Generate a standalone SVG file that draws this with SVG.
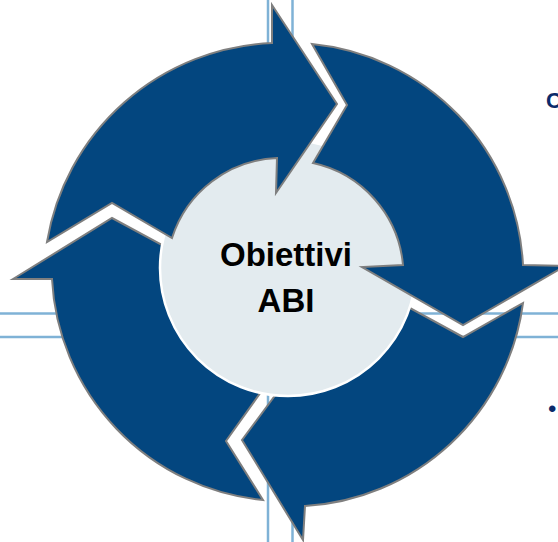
<svg xmlns="http://www.w3.org/2000/svg" width="558" height="542" viewBox="0 0 558 542">
<style>
.guide{stroke:#7fb2d6;stroke-width:2.5;fill:none}
.arrow{fill:#03467f;stroke:#7f7f7f;stroke-width:2;stroke-linejoin:miter}
.hub{fill:#e3ebef;stroke:#ffffff;stroke-width:2.5}
.lbl{font-family:"Liberation Sans",Arial,sans-serif;font-weight:bold;font-size:33px;fill:#000;text-anchor:middle}
.side{font-family:"Liberation Sans",Arial,sans-serif;fill:#0b2b6b}
</style>
<rect width="558" height="542" fill="#ffffff"/>
<g id="guides">
<line class="guide" x1="268" y1="0" x2="268" y2="542"/>
<line class="guide" x1="292.5" y1="0" x2="292.5" y2="542"/>
<line class="guide" x1="0" y1="313.5" x2="558" y2="313.5"/>
<line class="guide" x1="0" y1="337" x2="558" y2="337"/>
</g>
<g id="connectors">
<path id="arrow-bottom-left" class="arrow" d="M13,279 L112,218 L225,279 L173,279 A115,115 0 0,0 266,385 L226,441 L263,500 A234,234 0 0,1 52,279 Z"/>
<path id="arrow-bottom-right" class="arrow" d="M303,540 L242,440 L305,355 L305,387 A115,115 0 0,0 399,302 L463,337 L523,303 A234,234 0 0,1 305,506 Z"/>
</g>
<g id="hub">
<circle class="hub" cx="288" cy="268" r="128"/>
</g>
<g id="connectors-top">
<path id="arrow-top-left" class="arrow" d="M47,242 A238,238 0 0,1 272,43 L272,5 L337,104 L276,193 L277,158 A115,115 0 0,0 172,238 L112,203 Z"/>
<path id="arrow-top-right" class="arrow" d="M312,44 L347,105 L313,163 A115,115 0 0,1 403,265 L362,267 L463,325 L565,266 L523,265 A234,234 0 0,0 312,44 Z"/>
</g>
<g id="hub-label">
<text class="lbl" x="286" y="266">Obiettivi</text>
<text class="lbl" x="286" y="312">ABI</text>
</g>
<g id="side-text">
<text class="side" x="546" y="108" font-size="22" font-weight="bold">C</text>
<text class="side" x="548" y="417" font-size="24">•</text>
</g>
</svg>
